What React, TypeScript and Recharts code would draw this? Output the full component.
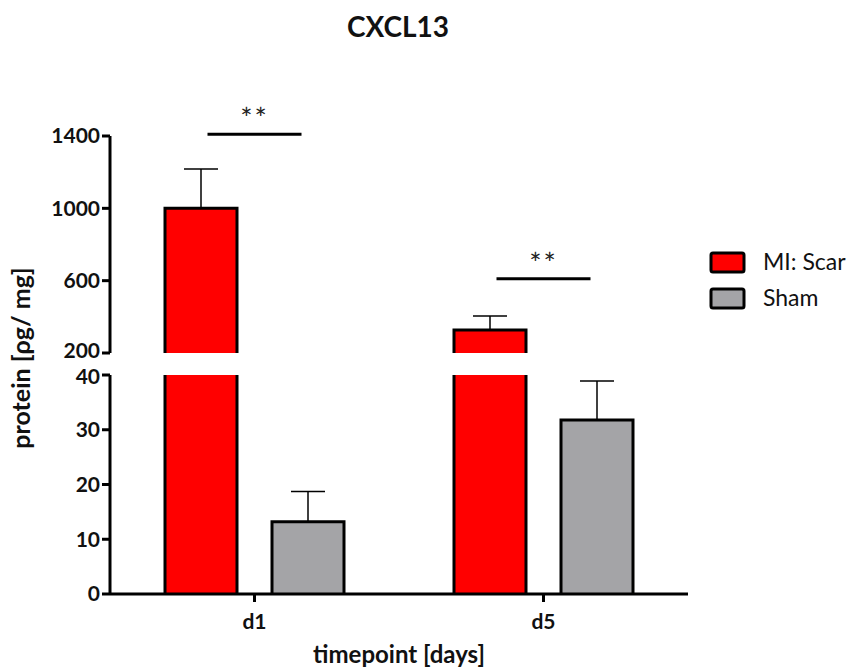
import React from 'react';
import { BarChart, Bar, XAxis, YAxis, ErrorBar, ReferenceDot } from 'recharts';

// CXCL13 protein levels (mean ± SEM) per timepoint
const days = ['d1', 'd5'];
const scarMean = [1000, 327];
const scarSem = [218, 78];
const shamMean = [13.2, 31.8];
const shamSem = [5.5, 7.1];

// Broken y-axis: upper segment and lower segment
const upperDomain = [200, 1400];
const upperTicks = [200, 600, 1000, 1400];
const lowerDomain = [0, 40];
const lowerTicks = [0, 10, 20, 30, 40];

// Significance brackets
const sigDays = ['d1', 'd5'];
const sigLevels = [1410, 610];
const sigLabels = ['**', '**'];

const seriesNames = ['MI: Scar', 'Sham'];
const seriesColors = ['#ff0000', '#a4a4a7'];

const W = 852;
const H = 669;
const FONT = 'Lato, "Open Sans", sans-serif';
const TEXT = '#111';

const upperData = days.map((day, i) => ({
  day,
  scar: scarMean[i],
  scarErr: [0, scarSem[i]],
  sham: null as number | null,
}));

const lowerData = days.map((day, i) => ({
  day,
  scar: scarMean[i],
  sham: shamMean[i],
  shamErr: [0, shamSem[i]],
}));

// Bar with outline on left, top and right only (bottom is the axis or the break)
const OpenBottomBar = (props: any) => {
  const { x, y, width, height, fill } = props;
  if (x == null || y == null || !width || !height) return null;
  return (
    <g>
      <rect x={x} y={y} width={width} height={height} fill={fill} />
      <path
        d={`M${x},${y + height} V${y} H${x + width} V${y + height}`}
        fill="none"
        stroke="#000"
        strokeWidth={3}
      />
    </g>
  );
};

const SigMark = ({ cx, cy, text }: { cx: number; cy: number; text: string }) => (
  <g>
    <line x1={cx - 47} x2={cx + 47} y1={cy} y2={cy} stroke="#000" strokeWidth={3} />
    <text
      x={cx}
      y={cy - 5}
      textAnchor="middle"
      fontFamily={FONT}
      fontSize={29}
      letterSpacing={2}
      fill="#222"
    >
      {text}
    </text>
  </g>
);

const axisLine = { stroke: '#000', strokeWidth: 3 };
const tickStyle = { fontFamily: FONT, fontSize: 21, fontWeight: 700, fill: TEXT };

// Y tick label; the labels next to the axis break are nudged apart a little
const makeYTick = (edgeValue: number, shift: number) => (p: any) => {
  const v = p.payload?.value;
  return (
    <text
      x={p.x}
      y={p.y + (v === edgeValue ? shift : 0)}
      dy="0.355em"
      textAnchor="end"
      fontFamily={FONT}
      fontSize={21}
      fontWeight={700}
      fill={TEXT}
    >
      {v}
    </text>
  );
};

const upperTick = makeYTick(upperDomain[0], -2);
const lowerTick = makeYTick(lowerDomain[1], 2);

const BAR_SIZE = 72;
const BAR_GAP = 35;

export default function App() {
  return (
    <div
      style={{
        position: 'absolute',
        left: 0,
        top: 0,
        width: W,
        height: H,
        background: '#fff',
        fontFamily: FONT,
      }}
    >
      {/* upper segment: 200 – 1400 */}
      <div style={{ position: 'absolute', left: 0, top: 0 }}>
        <BarChart
          width={W}
          height={H}
          data={upperData}
          margin={{ top: 136, right: 164, bottom: 316, left: 50 }}
          barGap={BAR_GAP}
          barSize={BAR_SIZE}
        >
          <XAxis dataKey="day" hide />
          <YAxis
            width={60}
            domain={upperDomain}
            ticks={upperTicks}
            allowDataOverflow
            axisLine={axisLine}
            tickLine={axisLine}
            tickSize={8}
            tickMargin={2}
            tick={upperTick}
            interval={0}
          />
          <Bar dataKey="scar" fill={seriesColors[0]} shape={OpenBottomBar} isAnimationActive={false}>
            <ErrorBar dataKey="scarErr" width={17} stroke="#000" strokeWidth={1.5} />
          </Bar>
          <Bar dataKey="sham" fill={seriesColors[1]} shape={OpenBottomBar} isAnimationActive={false} />
          {sigDays.map((d, i) => (
            <ReferenceDot
              key={d}
              x={d}
              y={sigLevels[i]}
              ifOverflow="visible"
              shape={(p: any) => <SigMark cx={p.cx} cy={p.cy} text={sigLabels[i]} />}
            />
          ))}
        </BarChart>
      </div>

      {/* lower segment: 0 – 40 */}
      <div style={{ position: 'absolute', left: 0, top: 0 }}>
        <BarChart
          width={W}
          height={H}
          data={lowerData}
          margin={{ top: 375, right: 164, bottom: 0, left: 50 }}
          barGap={BAR_GAP}
          barSize={BAR_SIZE}
        >
          <XAxis
            dataKey="day"
            height={75}
            axisLine={axisLine}
            tickLine={axisLine}
            tickSize={8}
            tickMargin={12}
            tick={tickStyle}
            label={{
              value: 'timepoint [days]',
              position: 'insideBottom',
              offset: 6,
              style: { fontFamily: FONT, fontSize: 24, fontWeight: 700, fill: TEXT },
            }}
          />
          <YAxis
            width={60}
            domain={lowerDomain}
            ticks={lowerTicks}
            allowDataOverflow
            axisLine={axisLine}
            tickLine={axisLine}
            tickSize={8}
            tickMargin={2}
            tick={lowerTick}
            interval={0}
          />
          <Bar dataKey="scar" fill={seriesColors[0]} shape={OpenBottomBar} isAnimationActive={false} />
          <Bar dataKey="sham" fill={seriesColors[1]} shape={OpenBottomBar} isAnimationActive={false}>
            <ErrorBar dataKey="shamErr" width={17} stroke="#000" strokeWidth={1.5} />
          </Bar>
        </BarChart>
      </div>

      {/* title, y-axis label and legend */}
      <svg
        width={W}
        height={H}
        style={{ position: 'absolute', left: 0, top: 0, pointerEvents: 'none' }}
      >
        <text x={398} y={37} textAnchor="middle" fontFamily={FONT} fontSize={28} fontWeight={700} fill={TEXT}>
          CXCL13
        </text>
        <text
          x={30}
          y={358}
          transform="rotate(-90 30 358)"
          textAnchor="middle"
          fontFamily={FONT}
          fontSize={25}
          fontWeight={700}
          fill={TEXT}
        >
          protein [ρg/ mg]
        </text>
        {seriesNames.map((name, i) => (
          <g key={name}>
            <rect
              x={711}
              y={253 + i * 36}
              width={33}
              height={19}
              rx={2}
              fill={seriesColors[i]}
              stroke="#000"
              strokeWidth={3}
            />
            <text x={763} y={270 + i * 36} fontFamily={FONT} fontSize={23} fill={TEXT}>
              {name}
            </text>
          </g>
        ))}
      </svg>
    </div>
  );
}
